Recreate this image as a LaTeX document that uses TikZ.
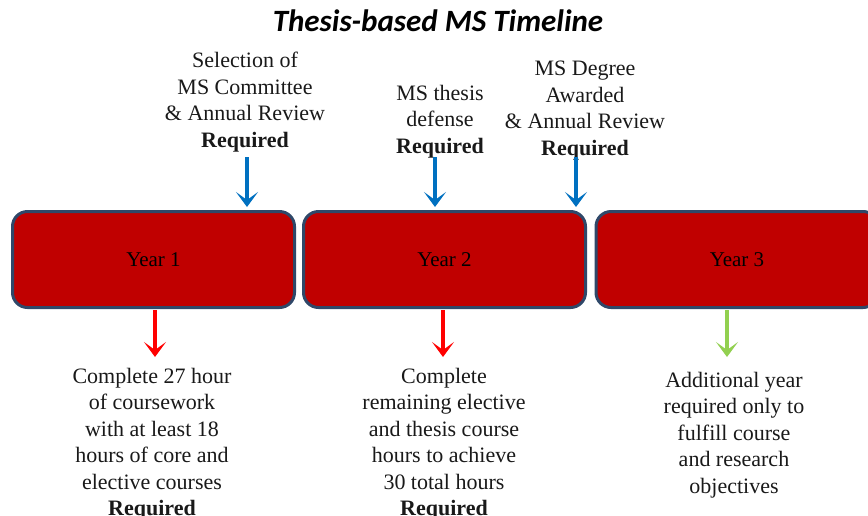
\documentclass[tikz,border=0pt]{standalone}
\usepackage{fontspec}
\setmainfont{Liberation Serif}
\newfontfamily\titlefont{Carlito}
\usetikzlibrary{arrows.meta}
\definecolor{boxred}{RGB}{192,0,0}
\definecolor{boxline}{RGB}{47,72,105}
\definecolor{arrblue}{RGB}{0,112,192}
\definecolor{arrred}{RGB}{255,0,0}
\definecolor{arrgreen}{RGB}{146,208,80}
\tikzset{
  yearbox/.style={draw=boxline, line width=3pt, fill=boxred, rounded corners=15pt,
    minimum width=282pt, minimum height=96pt, font=\fontsize{21}{25}\selectfont},
  note/.style={align=center, inner sep=0pt, anchor=north, text=black!90,
    font=\fontsize{22}{26.5}\selectfont},
  tl/.style={line width=4pt, -{Stealth[length=15pt,width=22pt,inset=8pt]}}
}
\begin{document}
\begin{tikzpicture}[x=1pt,y=-1pt]
        \clip (0,0) rectangle (868,515);

        \node[font=\titlefont\bfseries\itshape\fontsize{31}{36}\selectfont] (title) at (438,21) {Thesis-based MS Timeline};

        \node[yearbox] (y1) at (153.5,259.5) {Year 1};
        \node[yearbox] (y2) at (444.5,259.5) {Year 2};
        \node[yearbox] (y3) at (737,259.5) {Year 3};

        \node[note] (sel) at (245,52) {Selection of\\MS Committee\\\& Annual Review\\\textbf{Required}};
        \node[note] (def) at (440,85) {MS thesis\\defense\\\textbf{Required}};
        \node[note] (awd) at (585,61) {MS Degree\\Awarded\\\& Annual Review\\\textbf{Required}};

        \node[note] (c1) at (152,368) {Complete 27 hour\\of coursework\\with at least 18\\hours of core and\\elective courses\\\textbf{Required}};
        \node[note] (c2) at (444,368) {Complete\\remaining elective\\and thesis course\\hours to achieve\\30 total hours\\\textbf{Required}};
        \node[note] (c3) at (734,372) {Additional year\\required only to\\fulfill course\\and research\\objectives};

        \coordinate (s1) at (247,157); \coordinate (e1) at (247,207);
        \coordinate (s2) at (435,157); \coordinate (e2) at (435,207);
        \coordinate (s3) at (576,157); \coordinate (e3) at (576,207);
        \draw[tl, arrblue] (s1) -- (e1);
        \draw[tl, arrblue] (s2) -- (e2);
        \draw[tl, arrblue] (s3) -- (e3);

        \coordinate (d1) at (155,310); \coordinate (f1) at (155,357);
        \coordinate (d2) at (443,310); \coordinate (f2) at (443,357);
        \coordinate (d3) at (727,310); \coordinate (f3) at (727,357);
        \draw[tl, arrred] (d1) -- (f1);
        \draw[tl, arrred] (d2) -- (f2);
        \draw[tl, arrgreen] (d3) -- (f3);
      \end{tikzpicture}
\end{document}
